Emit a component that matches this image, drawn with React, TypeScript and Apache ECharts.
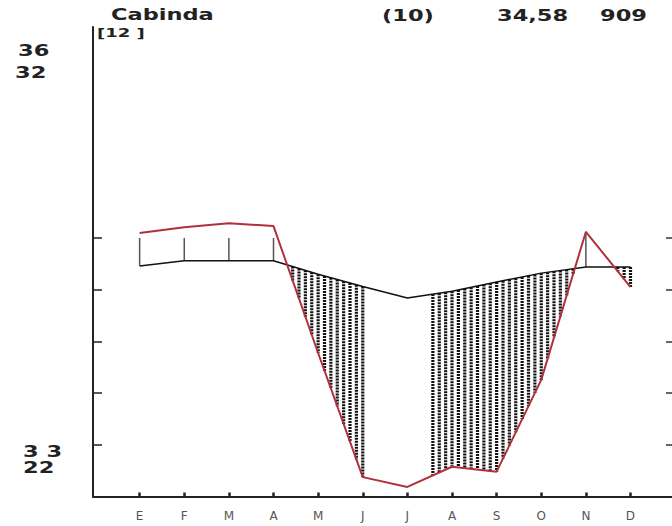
import React, { useEffect, useRef } from "react";
import * as echarts from "echarts";

// ---- data ----
const monthLabels = ["E", "F", "M", "A", "M", "J", "J", "A", "S", "O", "N", "D"];
const monthIndex = [1, 2, 3, 4, 5, 6, 7, 8, 9, 10, 11, 12];
const temperatureC = [44.6, 45.6, 45.6, 45.6, 43.0, 40.6, 38.4, 39.7, 41.5, 43.2, 44.4, 44.4];
const precipitationMm = [101.9, 104.1, 105.7, 104.6, 55.5, 7.5, 3.7, 11.5, 9.6, 45.1, 102.4, 81.0];
const humidMonths = [1, 2, 3, 4, 11];
const humidTopMm = [100, 100, 100, 100, 102.4];
const dryHatchSpans = [
  [4, 6],
  [7 + 4 / 7, 12],
];
const hatchPerMonth = 7;
const leftTickValues = [10, 20, 30, 40, 50];
const rightTickValues = [20, 40, 60, 80, 100];

const stationName = "Cabinda";
const stationYears = "(10)";
const stationMeanTemp = "34,58";
const stationPrecip = "909";
const stationElev = "[12 ]";
const absMaxLabel = "36";
const meanMaxLabel = "32";
const meanMinLabel = "3 3";
const absMinLabel = "22";

function interp(arr: number[], t: number): number {
  const i = Math.floor(t);
  if (i >= 12) return arr[11];
  if (i < 1) return arr[0];
  const f = t - i;
  return arr[i - 1] + (arr[i] - arr[i - 1]) * f;
}

function buildHatch(): number[][] {
  const out: number[][] = [];
  for (const [a, b] of dryHatchSpans) {
    const n = Math.round((b - a) * hatchPerMonth);
    for (let k = 0; k <= n; k++) {
      const t = a + k / hatchPerMonth;
      const temp = interp(temperatureC, t);
      const pHalf = interp(precipitationMm, t) / 2;
      if (pHalf < temp) out.push([t, temp, pHalf]);
    }
  }
  return out;
}

export default function App() {
  const ref = useRef<HTMLDivElement>(null);

  useEffect(() => {
    if (!ref.current) return;
    const chart = echarts.init(ref.current, undefined, { renderer: "svg" });

    const hatchData = buildHatch();
    const humidData = humidMonths.map((m, i) => [m, temperatureC[m - 1], humidTopMm[i] / 2]);

    const txt = (text: string, x: number, y: number, size: number) => ({
      type: "text",
      x,
      y,
      scaleX: 1.5,
      z: 10,
      style: {
        text,
        fontSize: size,
        fontWeight: "bold",
        fontFamily: "DejaVu Sans",
        fill: "#222",
        textAlign: "left",
        textVerticalAlign: "middle",
        align: "left",
        verticalAlign: "middle",
      },
    });

    const option: any = {
      animation: false,
      backgroundColor: "#ffffff",
      grid: { left: 93, right: 0, top: 27, bottom: 29.5, containLabel: false },
      xAxis: {
        type: "value",
        min: -0.045,
        max: 12.93,
        axisLine: { show: true, onZero: false, lineStyle: { color: "#222", width: 2 } },
        axisTick: {
          show: true,
          inside: true,
          length: 4,
          customValues: monthIndex,
          lineStyle: { color: "#222", width: 2.5 },
        },
        axisLabel: {
          show: true,
          customValues: monthIndex,
          formatter: (v: number) => monthLabels[Math.round(v) - 1] ?? "",
          margin: 13,
          color: "#555",
          fontSize: 12,
          fontFamily: "DejaVu Sans",
        },
        splitLine: { show: false },
      },
      yAxis: [
        {
          type: "value",
          min: 0,
          max: 90.8,
          position: "left",
          axisLine: { show: true, onZero: false, lineStyle: { color: "#222", width: 2 } },
          axisTick: {
            show: true,
            inside: true,
            length: 9,
            customValues: leftTickValues,
            lineStyle: { color: "#222", width: 1.5 },
          },
          axisLabel: { show: false },
          splitLine: { show: false },
        },
        {
          type: "value",
          min: 0,
          max: 181.6,
          position: "right",
          axisLine: { show: false, onZero: false },
          axisTick: {
            show: true,
            inside: true,
            length: 6,
            customValues: rightTickValues,
            lineStyle: { color: "#333", width: 1.5 },
          },
          axisLabel: { show: false },
          splitLine: { show: false },
        },
      ],
      series: [
        {
          type: "custom",
          name: "dry",
          xAxisIndex: 0,
          yAxisIndex: 0,
          z: 1,
          silent: true,
          data: hatchData,
          renderItem: (params: any, api: any) => {
            const t = api.value(0);
            const p1 = api.coord([t, api.value(1)]);
            const p2 = api.coord([t, api.value(2)]);
            return {
              type: "line",
              shape: { x1: p1[0], y1: p1[1], x2: p2[0], y2: p2[1] },
              style: { stroke: "#111", lineWidth: 3.2, lineDash: [2, 1] },
            };
          },
        },
        {
          type: "custom",
          name: "humid",
          xAxisIndex: 0,
          yAxisIndex: 0,
          z: 1,
          silent: true,
          data: humidData,
          renderItem: (params: any, api: any) => {
            const t = api.value(0);
            const p1 = api.coord([t, api.value(1)]);
            const p2 = api.coord([t, api.value(2)]);
            return {
              type: "line",
              shape: { x1: p1[0], y1: p1[1], x2: p2[0], y2: p2[1] },
              style: { stroke: "#555", lineWidth: 1.5 },
            };
          },
        },
        {
          type: "line",
          name: "temperature",
          yAxisIndex: 0,
          z: 3,
          symbol: "none",
          data: monthIndex.map((m, i) => [m, temperatureC[i]]),
          lineStyle: { color: "#111", width: 1.5 },
        },
        {
          type: "line",
          name: "precipitation",
          yAxisIndex: 1,
          z: 4,
          symbol: "none",
          data: monthIndex.map((m, i) => [m, precipitationMm[i]]),
          lineStyle: { color: "#b0303c", width: 2 },
        },
      ],
      graphic: [
        txt(stationName, 111, 15, 15),
        txt(stationYears, 382, 16, 15),
        txt(stationMeanTemp, 497, 16, 15),
        txt(stationPrecip, 600, 16, 15),
        txt(stationElev, 97, 33, 12),
        txt(absMaxLabel, 18, 51, 15),
        txt(meanMaxLabel, 15, 72.5, 15),
        txt(meanMinLabel, 23, 452, 15),
        txt(absMinLabel, 23, 468, 15),
      ],
    };

    chart.setOption(option);
    return () => chart.dispose();
  }, []);

  return (
    <div
      ref={ref}
      style={{ position: "fixed", left: 0, top: 0, width: 672, height: 526, background: "#fff" }}
    />
  );
}
